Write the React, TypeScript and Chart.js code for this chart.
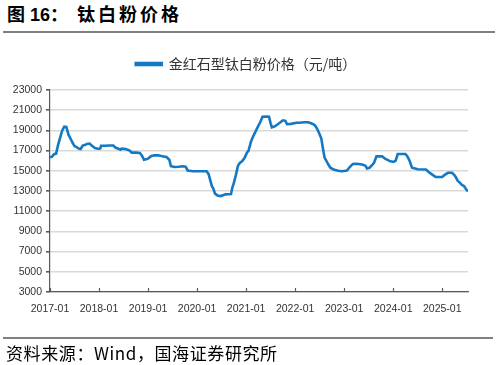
import React, { useEffect, useRef } from "react";
import { Chart, registerables } from "chart.js";

Chart.register(...registerables);

// months since 2017-01 (weekly/step sampling)
const xMonths = [
  0, 0.5, 1, 1.5, 2, 2.5, 3, 3.5, 4, 4.5, 5, 5.5, 6, 6.5, 7, 7.5, 8, 8.5, 9, 9.7,
  10.2, 11, 11.7, 12.3, 12.5, 13.5, 14.5, 15.5, 16, 16.7, 17.3, 17.5, 18.5, 19.5, 20, 21,
  22, 22.5, 23, 23.5, 24, 24.7, 25.5, 26.5, 27.5, 28.5, 29.2, 29.6, 30.5, 31.5, 32.5, 33.2,
  33.7, 35, 36.5, 38.3, 38.8, 39.2, 39.6, 40, 40.4, 41, 41.8, 42.5, 43, 44.3, 44.6, 45,
  45.5, 46, 46.5, 47, 47.6, 48.2, 48.6, 49.2, 49.6, 50.2, 50.8, 51.5, 52, 53, 53.6, 54,
  54.3, 55, 55.5, 56.4, 57, 57.6, 58, 59, 60.3, 61, 62.3, 63.2, 63.9, 64.7, 65.2, 65.8,
  66.4, 66.8, 67.2, 67.9, 68.6, 69.4, 70.5, 71.5, 72.7, 73.2, 74.1, 75, 76.4, 77.2, 77.6, 78.2,
  78.8, 79.3, 79.9, 81.3, 82, 83.3, 84.1, 84.6, 85.1, 87, 87.5, 88, 88.6, 90, 92, 92.6,
  93.3, 94.4, 96, 96.6, 97.4, 98.4, 98.9, 99.3, 99.8, 100.3, 100.8, 101.3, 101.8, 102.3,
];

// 金红石型钛白粉价格（元/吨）
const prices = [
  16330, 16400, 16650, 16700, 17600, 18300, 19000, 19370, 19350, 18600, 18200, 17800, 17450, 17350, 17200, 17150, 17500, 17550, 17650, 17700,
  17500, 17250, 17180, 17200, 17480, 17480, 17500, 17500, 17300, 17190, 17100, 17200, 17150, 17000, 16800, 16800,
  16760, 16500, 16100, 16150, 16200, 16450, 16530, 16530, 16450, 16360, 16100, 15450, 15380, 15400, 15450, 15400,
  15030, 14960, 14960, 14960, 14700, 14100, 13500, 13200, 12740, 12550, 12500, 12600, 12670, 12700, 13300, 13800,
  14600, 15500, 15800, 15940, 16270, 16800, 17000, 17900, 18300, 18800, 19300, 19860, 20350, 20380, 20350, 19700,
  19300, 19400, 19540, 19800, 20000, 19950, 19630, 19650, 19760, 19760, 19800, 19800, 19700, 19550, 19300, 18800,
  18200, 17200, 16300, 15780, 15300, 15130, 15000, 14960, 15030, 15300, 15680, 15700, 15620, 15500, 15230, 15300,
  15550, 15800, 16430, 16430, 16200, 15940, 15880, 16000, 16660, 16660, 16400, 16000, 15300, 15150, 15130, 14900,
  14700, 14380, 14380, 14600, 14800, 14800, 14600, 14380, 14000, 13830, 13600, 13500, 13200, 12950,
];

const xTickLabels = [
  "2017-01", "2018-01", "2019-01", "2020-01", "2021-01",
  "2022-01", "2023-01", "2024-01", "2025-01",
];

const seriesName = "金红石型钛白粉价格（元/吨）";
const yMin = 3000;
const yMax = 23000;
const yStep = 2000;

const LINE_COLOR = "#1479c4";

const innerTicks = {
  id: "innerTicks",
  afterDatasetsDraw(chart: any) {
    const xs = chart.scales.x;
    const ctx = chart.ctx;
    const bottom = chart.chartArea.bottom;
    ctx.save();
    ctx.strokeStyle = "#595959";
    ctx.lineWidth = 1.2;
    xTickLabels.forEach((_, i) => {
      const px = Math.round(xs.getPixelForValue(i * 12)) + 0.5;
      ctx.beginPath();
      ctx.moveTo(px, bottom);
      ctx.lineTo(px, bottom - 4);
      ctx.stroke();
    });
    ctx.restore();
  },
};

// extra room under the legend, and a small horizontal offset of the legend
const legendTweak = {
  id: "legendTweak",
  afterInit(chart: any) {
    const lg = chart.legend;
    if (!lg || lg.__patched) return;
    const fit = lg.fit;
    lg.fit = function () {
      fit.call(this);
      this.height += 9;
    };
    lg.__patched = true;
  },
  afterLayout(chart: any) {
    const lg = chart.legend;
    if (lg) {
      lg.left += 12;
      lg.right += 12;
    }
  },
};

function App() {
  const ref = useRef<HTMLCanvasElement | null>(null);

  useEffect(() => {
    if (!ref.current) return;
    const chart = new Chart(ref.current, {
      type: "line",
      data: {
        datasets: [
          {
            label: seriesName,
            data: xMonths.map((x, i) => ({ x, y: prices[i] })),
            borderColor: LINE_COLOR,
            backgroundColor: LINE_COLOR,
            borderWidth: 2.6,
            pointRadius: 0,
            tension: 0,
            fill: false,
          },
        ],
      },
      options: {
        animation: false,
        responsive: false,
        maintainAspectRatio: false,
        layout: { padding: { top: 39, left: 0, right: 30, bottom: 43 } },
        plugins: {
          legend: {
            display: true,
            position: "top",
            align: "center",
            labels: {
              boxWidth: 26,
              boxHeight: 2,
              padding: 18,
              color: "#333333",
              font: { family: "'Noto Sans CJK SC', sans-serif", size: 14 },
            },
          },
          tooltip: { enabled: false },
        },
        scales: {
          x: {
            type: "linear",
            min: 0,
            max: xMonths[xMonths.length - 1],
            afterBuildTicks: (s: any) => {
              s.ticks = xTickLabels.map((_, i) => ({ value: i * 12 }));
            },
            afterFit: (s: any) => {
              s.height = 30;
            },
            grid: { display: false, drawTicks: false },
            border: { display: true, color: "#595959", width: 1.2 },
            ticks: {
              autoSkip: false,
              maxRotation: 0,
              padding: 11,
              color: "#333333",
              font: { family: "'Liberation Sans', Arial, sans-serif", size: 10.5 },
              callback: (v: any) => xTickLabels[Math.round(Number(v) / 12)] ?? "",
            },
          },
          y: {
            min: yMin,
            max: yMax,
            afterFit: (s: any) => {
              s.width = 50;
            },
            grid: {
              color: "#d9d9d9",
              lineWidth: 1.6,
              tickColor: "#595959",
              tickLength: 4,
            },
            border: { display: true, color: "#595959", width: 1.2 },
            ticks: {
              stepSize: yStep,
              padding: 4,
              color: "#333333",
              font: { family: "'Liberation Sans', Arial, sans-serif", size: 10.5 },
              callback: (v: any) => String(v),
            },
          },
        },
      },
      plugins: [innerTicks, legendTweak],
    });
    return () => chart.destroy();
  }, []);

  return (
    <div
      style={{
        position: "absolute",
        left: 0,
        top: 0,
        width: 498,
        height: 365,
        background: "#ffffff",
        overflow: "hidden",
      }}
    >
      <div
        style={{
          position: "absolute",
          left: 7,
          top: 3,
          fontFamily: "'Liberation Sans', 'Noto Sans CJK SC', sans-serif",
          fontWeight: "bold",
          fontSize: 18,
          color: "#000",
          whiteSpace: "nowrap",
          lineHeight: "24px",
        }}
      >
        <span>图 16：</span>
        <span style={{ position: "absolute", left: 70, letterSpacing: 3 }}>钛白粉价格</span>
      </div>
      <div
        style={{
          position: "absolute",
          left: 3,
          top: 31,
          width: 492,
          height: 2,
          background: "#808080",
        }}
      />
      <canvas
        ref={ref}
        width={498}
        height={365}
        style={{ position: "absolute", left: 0, top: 0, width: 498, height: 365 }}
      />
      <div
        style={{
          position: "absolute",
          left: 3,
          top: 337,
          width: 490,
          height: 2,
          background: "#808080",
        }}
      />
      <div
        style={{
          position: "absolute",
          left: 6,
          top: 341,
          fontFamily: "'Noto Sans CJK SC', sans-serif",
          fontSize: 17,
          letterSpacing: 0.6,
          lineHeight: "23px",
          color: "#000",
          whiteSpace: "nowrap",
        }}
      >
        资料来源：Wind，国海证券研究所
      </div>
    </div>
  );
}

export default App;
